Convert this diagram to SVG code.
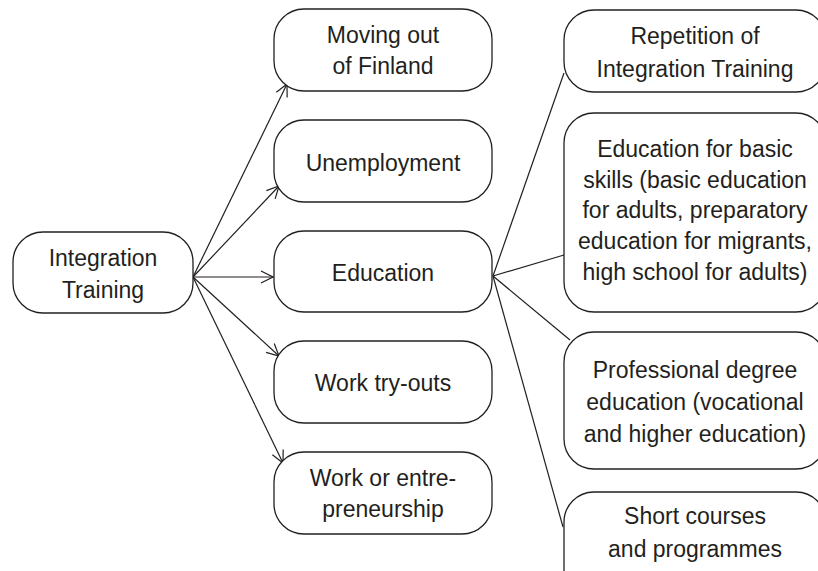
<svg xmlns="http://www.w3.org/2000/svg" width="818" height="571" viewBox="0 0 818 571">
<style>
.box{fill:#fff;stroke:#231f20;stroke-width:1.3}
text{font-family:"Liberation Sans",Arial,sans-serif;font-size:23px;fill:#231f20;text-anchor:middle}
.c{fill:none;stroke:#231f20;stroke-width:1.2}
</style>
<defs>
<marker id="ah" markerWidth="14" markerHeight="14" refX="13" refY="7" orient="auto" markerUnits="userSpaceOnUse">
<path d="M1,1 L13,7 L1,13" fill="none" stroke="#231f20" stroke-width="1.2"/>
</marker>
</defs>
<rect width="818" height="571" fill="#fff"/>
<g id="connectors">
<line class="c" x1="193" y1="277" x2="287" y2="84" marker-end="url(#ah)"/>
<line class="c" x1="193" y1="277" x2="279" y2="186" marker-end="url(#ah)"/>
<line class="c" x1="193" y1="277" x2="273" y2="277" marker-end="url(#ah)"/>
<line class="c" x1="193" y1="277" x2="279" y2="356" marker-end="url(#ah)"/>
<line class="c" x1="193" y1="277" x2="283" y2="463" marker-end="url(#ah)"/>
<line class="c" x1="493" y1="276" x2="564" y2="73"/>
<line class="c" x1="493" y1="276" x2="564" y2="255"/>
<line class="c" x1="493" y1="276" x2="570" y2="340"/>
<line class="c" x1="493" y1="276" x2="563" y2="527"/>
</g>
<g id="integration">
<rect class="box" x="13" y="232" width="180" height="81" rx="30"/>
<text x="103" y="266">Integration</text>
<text x="103" y="298">Training</text>
</g>
<g id="moving">
<rect class="box" x="274" y="9" width="218" height="82" rx="30"/>
<text x="383" y="43">Moving out</text>
<text x="383" y="74">of Finland</text>
</g>
<g id="unemployment">
<rect class="box" x="274" y="120" width="218" height="82" rx="30"/>
<text x="383" y="171">Unemployment</text>
</g>
<g id="education">
<rect class="box" x="274" y="231" width="218" height="81" rx="30"/>
<text x="383" y="281">Education</text>
</g>
<g id="tryouts">
<rect class="box" x="274" y="341" width="218" height="82" rx="30"/>
<text x="383" y="391">Work try-outs</text>
</g>
<g id="work">
<rect class="box" x="274" y="452" width="218" height="82" rx="30"/>
<text x="383" y="486">Work or entre-</text>
<text x="383" y="517">preneurship</text>
</g>
<g id="repetition">
<rect class="box" x="564" y="10" width="262" height="82" rx="30"/>
<text x="695" y="44">Repetition of</text>
<text x="695" y="77">Integration Training</text>
</g>
<g id="basic">
<rect class="box" x="564" y="113" width="262" height="199" rx="30"/>
<text x="695" y="157">Education for basic</text>
<text x="695" y="188">skills (basic education</text>
<text x="695" y="218">for adults, preparatory</text>
<text x="695" y="249">education for migrants,</text>
<text x="695" y="280">high school for adults)</text>
</g>
<g id="professional">
<rect class="box" x="564" y="332" width="262" height="137" rx="30"/>
<text x="695" y="378">Professional degree</text>
<text x="695" y="410">education (vocational</text>
<text x="695" y="442">and higher education)</text>
</g>
<g id="short">
<rect class="box" x="564" y="492" width="262" height="110" rx="30"/>
<text x="695" y="524">Short courses</text>
<text x="695" y="557">and programmes</text>
</g>
</svg>
